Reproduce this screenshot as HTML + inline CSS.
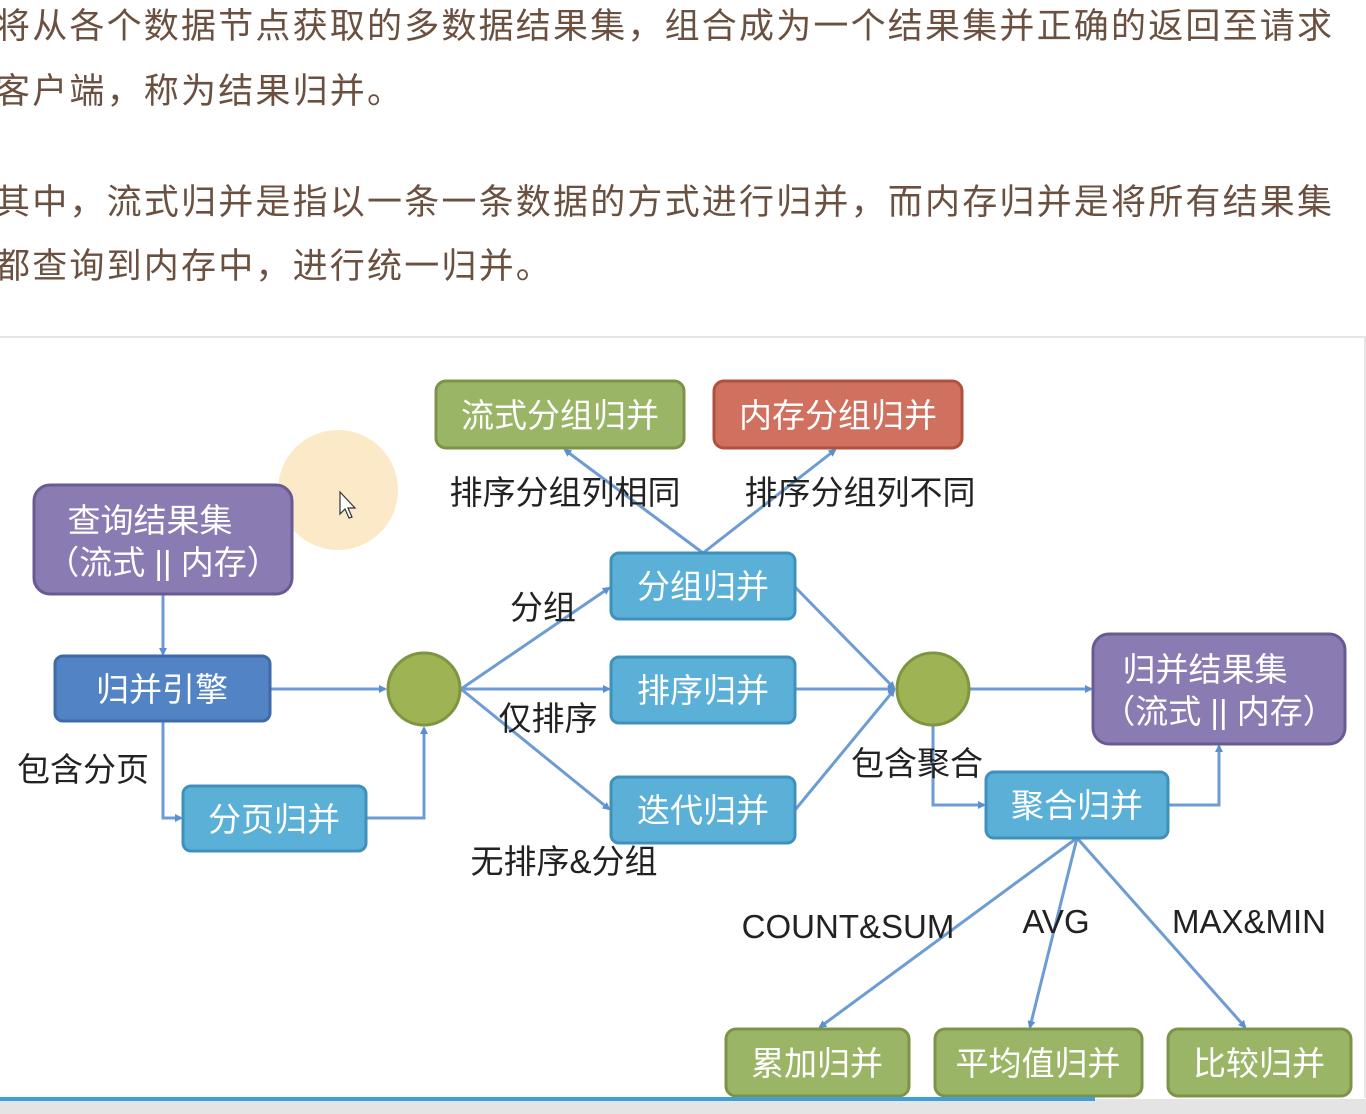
<!DOCTYPE html>
<html><head><meta charset="utf-8"><style>
html,body{margin:0;padding:0;width:1366px;height:1114px;overflow:hidden;background:#fff;font-family:"Liberation Sans","Noto Sans CJK SC",sans-serif}
.p{position:absolute;left:-5px;margin:0;font-size:35px;color:#6b5040;white-space:nowrap;letter-spacing:2.2px}
</style></head><body>
<p class="p" style="top:-2px">将从各个数据节点获取的多数据结果集，组合成为一个结果集并正确的返回至请求</p>
<p class="p" style="top:63px">客户端，称为结果归并。</p>
<p class="p" style="top:174px">其中，流式归并是指以一条一条数据的方式进行归并，而内存归并是将所有结果集</p>
<p class="p" style="top:238px">都查询到内存中，进行统一归并。</p>
<div style="position:absolute;left:0;top:336px;width:1364px;height:760px;border-top:2px solid #e6e6e6;border-right:2px solid #e6e6e6"></div>
<svg width="1366" height="1114" style="position:absolute;left:0;top:0" font-family="Liberation Sans, Noto Sans CJK SC, sans-serif">
<defs><marker id="a" markerWidth="8" markerHeight="8" refX="6" refY="4" orient="auto" markerUnits="userSpaceOnUse"><path d="M0,0 L8,4 L0,8 z" fill="#5b8fd0"/></marker></defs>
<circle cx="338" cy="490" r="60" fill="#fbe9c8"/>
<g stroke="#6d9cd4" stroke-width="3" fill="none" marker-end="url(#a)">
<path d="M163,594 V654"/>
<path d="M163,721 V818 H181"/>
<path d="M270,689 H385"/>
<path d="M366,818 H424 V728"/>
<path d="M461,689 L609,588"/>
<path d="M461,689 H609"/>
<path d="M461,689 L609,809"/>
<path d="M703,553 L565,450"/>
<path d="M703,553 L835,450"/>
<path d="M795,587 L894,688"/>
<path d="M795,689 H894"/>
<path d="M795,810 L894,690"/>
<path d="M970,689 H1091"/>
<path d="M933,726 V805 H984"/>
<path d="M1168,805 H1219 V746"/>
<path d="M1077,838 L820,1027"/>
<path d="M1077,838 L1030,1027"/>
<path d="M1077,838 L1245,1027"/>
</g>
<g stroke-width="3">
<rect x="436" y="381" width="248" height="67" rx="10" fill="#9bb566" stroke="#7b9448"/>
<rect x="714" y="381" width="248" height="67" rx="10" fill="#d0705e" stroke="#b0503f"/>
<rect x="34" y="485" width="258" height="109" rx="16" fill="#8a7bb2" stroke="#6a5a92"/>
<rect x="55" y="656" width="215" height="65" rx="8" fill="#5283c4" stroke="#3f6aa8"/>
<rect x="183" y="786" width="183" height="65" rx="8" fill="#5bb0d8" stroke="#3f90ba"/>
<rect x="611" y="553" width="184" height="66" rx="8" fill="#5bb0d8" stroke="#3f90ba"/>
<rect x="611" y="657" width="184" height="66" rx="8" fill="#5bb0d8" stroke="#3f90ba"/>
<rect x="611" y="777" width="184" height="66" rx="8" fill="#5bb0d8" stroke="#3f90ba"/>
<rect x="1093" y="634" width="252" height="110" rx="16" fill="#8a7bb2" stroke="#6a5a92"/>
<rect x="986" y="772" width="182" height="66" rx="8" fill="#5bb0d8" stroke="#3f90ba"/>
<rect x="726" y="1029" width="183" height="67" rx="10" fill="#9bb566" stroke="#7b9448"/>
<rect x="935" y="1029" width="207" height="67" rx="10" fill="#9bb566" stroke="#7b9448"/>
<rect x="1168" y="1029" width="183" height="67" rx="10" fill="#9bb566" stroke="#7b9448"/>
<circle cx="424" cy="689" r="36" fill="#9db354" stroke="#7f9640"/>
<circle cx="933" cy="689" r="36" fill="#9db354" stroke="#7f9640"/>
</g>
<g fill="#fff" font-size="33" text-anchor="middle">
<text x="560" y="427">流式分组归并</text>
<text x="838" y="427">内存分组归并</text>
<text x="150" y="532">查询结果集</text>
<text x="163" y="574">（流式 || 内存）</text>
<text x="162" y="701">归并引擎</text>
<text x="274" y="831">分页归并</text>
<text x="703" y="598">分组归并</text>
<text x="703" y="702">排序归并</text>
<text x="703" y="822">迭代归并</text>
<text x="1205" y="681">归并结果集</text>
<text x="1219" y="723">（流式 || 内存）</text>
<text x="1077" y="817">聚合归并</text>
<text x="817" y="1075">累加归并</text>
<text x="1038" y="1075">平均值归并</text>
<text x="1259" y="1075">比较归并</text>
</g>
<g fill="#222" font-size="33" text-anchor="middle">
<text x="565" y="504">排序分组列相同</text>
<text x="860" y="504">排序分组列不同</text>
<text x="543" y="619">分组</text>
<text x="548" y="730">仅排序</text>
<text x="564" y="873">无排序&amp;分组</text>
<text x="83" y="781">包含分页</text>
<text x="917" y="775">包含聚合</text>
<text x="848" y="938">COUNT&amp;SUM</text>
<text x="1056" y="933">AVG</text>
<text x="1249" y="933">MAX&amp;MIN</text>
</g>
<path d="M340,492 v22 l5,-5 l4,9 l3,-1 l-4,-9 h7 z" fill="#fff" stroke="#333" stroke-width="1.2"/>
<rect x="0" y="1099" width="1366" height="15" fill="#e4e4e4"/>
<rect x="0" y="1097" width="1095" height="4" fill="#3fa0d8"/>
</svg>
</body></html>
